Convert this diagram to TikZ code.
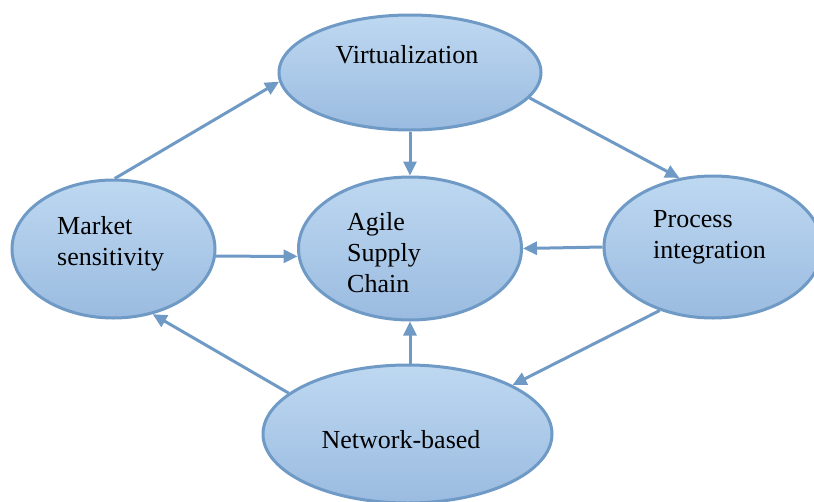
\documentclass[tikz,border=0pt]{standalone}
\usepackage{fontspec}
\setmainfont{Liberation Serif}
\usetikzlibrary{shapes.geometric,arrows.meta}
\definecolor{edgeblue}{RGB}{110,154,197}
\definecolor{filltop}{RGB}{190,216,241}
\definecolor{fillbot}{RGB}{154,187,224}
\begin{document}
\begin{tikzpicture}
  [x=1pt, y=-1pt,
   bubble/.style={ellipse, draw=edgeblue, line width=3pt, top color=filltop, bottom color=fillbot, inner sep=0pt},
   conn/.style={draw=edgeblue, line width=3pt, -{Triangle[length=14pt,width=13pt]}},
   lbl/.style={align=left, inner sep=0pt, font=\fontsize{26}{31}\selectfont}];
  \useasboundingbox (0,0) rectangle (814,501);
  % ellipses
  \node [bubble, minimum width=262pt, minimum height=115pt] (virt) at (410,72.5) {};
  \node [bubble, minimum width=223pt, minimum height=143pt] (asc) at (410,248.5) {};
  \node [bubble, minimum width=203pt, minimum height=138pt] (mkt) at (113.5,249) {};
  \node [bubble, minimum width=218pt, minimum height=142pt] (proc) at (713,247) {};
  \node [bubble, minimum width=289pt, minimum height=138pt] (net) at (407.5,434) {};
  % labels
  \node [lbl] (virt-t) at (407,55) {Virtualization};
  \node [lbl, anchor=west] (asc-t) at (347,253) {Agile\\Supply\\Chain};
  \node [lbl, anchor=west] (mkt-t) at (57,244) {Market\\sensitivity};
  \node [lbl, anchor=west] (proc-t) at (653,237) {Process\\integration};
  \node [lbl] (net-t) at (401,440) {Network-based};
  % connectors
  \draw [conn] (mkt.89) -- (virt.184);
  \draw [conn] (virt.-12) -- (proc.116);
  \draw [conn] (virt.south) -- (asc.north);
  \draw [conn] (mkt.-4) -- (asc.184);
  \draw [conn] (proc.west) -- (asc.east);
  \draw [conn] (proc.230) -- (net.25);
  \draw [conn] (asc.south |- net.north) -- (asc.south);
  \draw [conn] (net.161) -- (mkt.-59);
\end{tikzpicture}
\end{document}
